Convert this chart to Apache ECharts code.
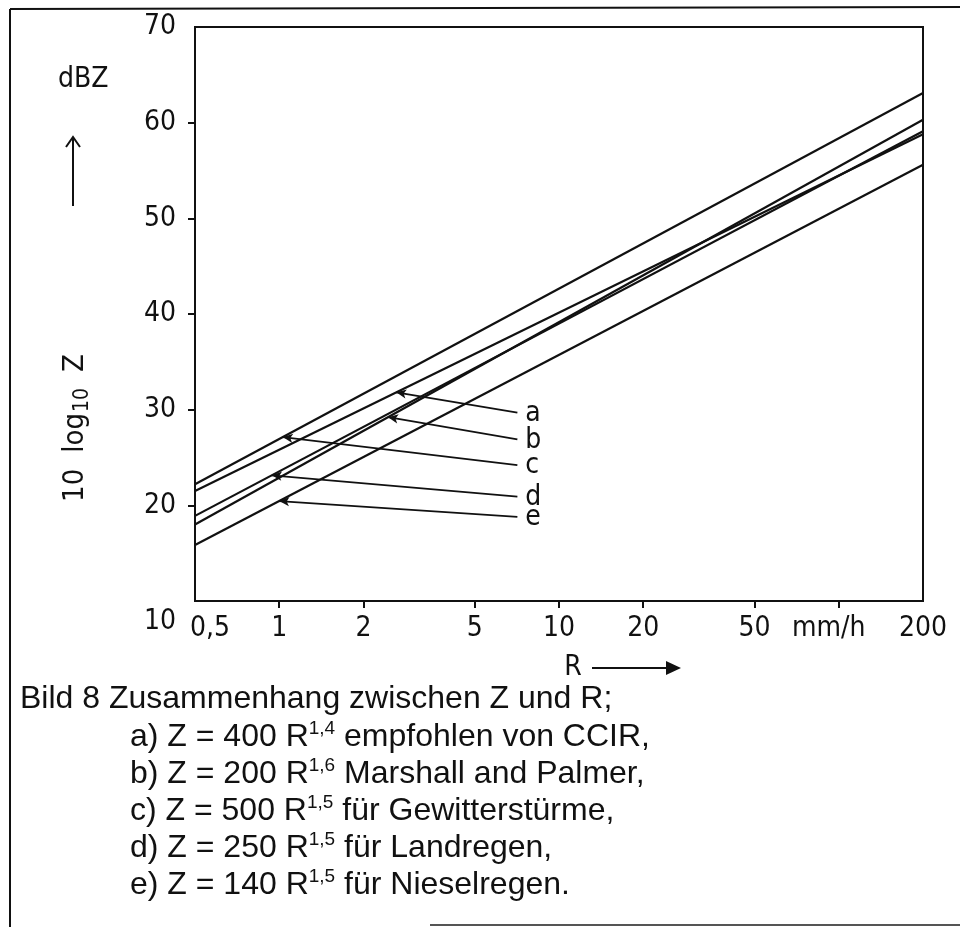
<!DOCTYPE html>
<html>
<head>
<meta charset="utf-8">
<script src="https://cdn.jsdelivr.net/npm/echarts@6/dist/echarts.min.js"></script>
<style>
html, body { margin: 0; padding: 0; background: #fff; }
#chart { width: 960px; height: 927px; }
</style>
</head>
<body>
<div id="chart"></div>
<script>
// Rain rate R (mm/h) at the two ends of the plotted range
const rainRange = [0.5, 200];
// Reflectivity 10 log10 Z (dBZ) of each Z-R relation at R = 0.5 and R = 200
const lineA = [21.5, 58.8];  // Z = 400 R^1.4
const lineB = [18.0, 60.3];  // Z = 200 R^1.6
const lineC = [22.2, 63.1];  // Z = 500 R^1.5
const lineD = [18.9, 59.1];  // Z = 250 R^1.5
const lineE = [15.85, 55.6]; // Z = 140 R^1.5
const lineNames = ['a', 'b', 'c', 'd', 'e'];

// Pointer annotations: rain rate where each pointer meets its line,
// and the [R, dBZ] point where the pointer ends next to its letter
const pointerR = [2.62, 2.45, 1.03, 0.94, 1.0];
const pointerEnd = [[7.1, 29.7], [7.1, 26.9], [7.1, 24.2], [7.1, 20.9], [7.1, 18.8]];

// Axis ticks and labels
const xTickValues = [1, 2, 5, 10, 20, 50, 100];
const xLabelValues = [0.5, 1, 2, 5, 10, 20, 50, 100, 200];
const xLabelTexts = ['0,5', '1', '2', '5', '10', '20', '50', 'mm/h', '200'];
const yTickValues = [20, 30, 40, 50, 60];
const yLabelValues = [10, 20, 30, 40, 50, 60, 70];

// Caption lines: [letter, factor, exponent, description]
const captionTitle = 'Bild 8 Zusammenhang zwischen Z und R;';
const captionRows = [
  ['a', '400', '1,4', 'empfohlen von CCIR,'],
  ['b', '200', '1,6', 'Marshall and Palmer,'],
  ['c', '500', '1,5', 'für Gewitterstürme,'],
  ['d', '250', '1,5', 'für Landregen,'],
  ['e', '140', '1,5', 'für Nieselregen.']
];

const PLOT_FONT = "'Liberation Sans Narrow', 'DejaVu Sans Condensed', 'DejaVu Sans', sans-serif";
const TEXT_FONT = "'Liberation Sans', Arial, sans-serif";
const INK = '#111';

const lines = [lineA, lineB, lineC, lineD, lineE];

// dBZ on a straight line (in log R) through the two endpoint values
function onLine(ends, r) {
  const t = (Math.log10(r) - Math.log10(rainRange[0])) /
            (Math.log10(rainRange[1]) - Math.log10(rainRange[0]));
  return ends[0] + (ends[1] - ends[0]) * t;
}

function findIndex(arr, v) {
  for (let i = 0; i < arr.length; i++) {
    if (Math.abs(arr[i] - v) < 1e-6 * Math.max(1, Math.abs(v))) return i;
  }
  return -1;
}

const series = lines.map((ends, i) => ({
  type: 'line',
  name: lineNames[i],
  data: [[rainRange[0], ends[0]], [rainRange[1], ends[1]]],
  showSymbol: false,
  silent: true,
  lineStyle: { color: INK, width: 2.2 },
  markLine: {
    silent: true,
    animation: false,
    symbol: ['arrow', 'none'],
    symbolSize: [7, 10],
    lineStyle: { color: INK, width: 1.8, type: 'solid' },
    label: {
      show: true,
      position: 'end',
      distance: 8,
      formatter: lineNames[i],
      color: INK,
      fontSize: 28,
      fontFamily: PLOT_FONT
    },
    data: [[
      { coord: [pointerR[i], onLine(ends, pointerR[i])] },
      { coord: pointerEnd[i] }
    ]]
  }
}));

const graphics = [
  // outer frame
  { type: 'line', shape: { x1: 10, y1: 9, x2: 10, y2: 927 }, style: { stroke: INK, lineWidth: 2 } },
  { type: 'line', shape: { x1: 10, y1: 9, x2: 960, y2: 7 }, style: { stroke: INK, lineWidth: 2 } },
  { type: 'line', shape: { x1: 430, y1: 925, x2: 960, y2: 925 }, style: { stroke: '#555', lineWidth: 2 } },
  // y axis name and arrow
  { type: 'text', x: 58, y: 80, style: { text: 'dBZ', font: '28px ' + PLOT_FONT, fill: INK, textAlign: 'left', textVerticalAlign: 'middle' } },
  { type: 'line', shape: { x1: 73, y1: 206, x2: 73, y2: 137 }, style: { stroke: INK, lineWidth: 2 } },
  { type: 'polyline', shape: { points: [[66, 147], [73, 137], [80, 147]] }, style: { stroke: INK, lineWidth: 2, fill: null } },
  {
    type: 'text', x: 75, y: 428, rotation: Math.PI / 2,
    style: {
      text: '{n|10}{g|}{n|log}{s|10}{g|}{n|Z}',
      textAlign: 'center', textVerticalAlign: 'middle',
      rich: {
        n: { fontSize: 29, fontFamily: PLOT_FONT, fill: INK, lineHeight: 30 },
        g: { width: 16 },
        s: { fontSize: 21, fontFamily: PLOT_FONT, fill: INK, padding: [16, 0, 0, 1] }
      }
    }
  },
  // x axis name and arrow
  { type: 'text', x: 573, y: 668, style: { text: 'R', font: '28px ' + PLOT_FONT, fill: INK, textAlign: 'center', textVerticalAlign: 'middle' } },
  { type: 'line', shape: { x1: 592, y1: 668, x2: 672, y2: 668 }, style: { stroke: INK, lineWidth: 2 } },
  { type: 'polygon', shape: { points: [[666, 661], [681, 668], [666, 675]] }, style: { fill: INK } },
  // caption
  { type: 'text', x: 20, y: 699, style: { text: captionTitle, font: '32px ' + TEXT_FONT, fill: INK, textAlign: 'left', textVerticalAlign: 'middle' } }
];

captionRows.forEach((row, i) => {
  graphics.push({
    type: 'text', x: 130, y: 737 + i * 37,
    style: {
      text: '{n|' + row[0] + ') Z = ' + row[1] + ' R}{s|' + row[2] + '}{n| ' + row[3] + '}',
      textAlign: 'left', textVerticalAlign: 'middle',
      rich: {
        n: { fontSize: 32, fontFamily: TEXT_FONT, fill: INK, lineHeight: 36 },
        s: { fontSize: 19, fontFamily: TEXT_FONT, fill: INK, verticalAlign: 'top', lineHeight: 20 }
      }
    }
  });
});

const chart = echarts.init(document.getElementById('chart'), null, { renderer: 'canvas' });
chart.setOption({
  animation: false,
  backgroundColor: '#fff',
  grid: {
    left: 195, right: 37, top: 27, bottom: 326,
    show: true, borderColor: INK, borderWidth: 2, backgroundColor: 'transparent'
  },
  xAxis: {
    type: 'log', logBase: 10, min: rainRange[0], max: rainRange[1],
    axisLine: { show: true, lineStyle: { color: INK, width: 2 } },
    axisTick: { show: true, customValues: xTickValues, length: 7, lineStyle: { color: INK, width: 2 } },
    minorTick: { show: false },
    splitLine: { show: false },
    axisLabel: {
      customValues: xLabelValues,
      margin: 14,
      color: INK, fontSize: 28, fontFamily: PLOT_FONT,
      formatter: v => {
        const k = findIndex(xLabelValues, v);
        if (k < 0) return '';
        if (k === 0) return '{first|' + xLabelTexts[k] + '}';
        if (xLabelTexts[k] === 'mm/h') return '{unit|' + xLabelTexts[k] + '}';
        return xLabelTexts[k];
      },
      rich: {
        first: { fontSize: 28, fontFamily: PLOT_FONT, color: INK, padding: [0, 0, 0, 30] },
        unit: { fontSize: 28, fontFamily: PLOT_FONT, color: INK, padding: [0, 20, 0, 0] }
      }
    }
  },
  yAxis: {
    type: 'value', min: 10, max: 70, interval: 10,
    axisLine: { show: true, lineStyle: { color: INK, width: 2 } },
    axisTick: { show: true, customValues: yTickValues, length: 7, lineStyle: { color: INK, width: 2 } },
    splitLine: { show: false },
    axisLabel: {
      customValues: yLabelValues,
      margin: 19,
      color: INK, fontSize: 28, fontFamily: PLOT_FONT,
      formatter: v => (v === 10 ? '{low|10}' : String(v)),
      rich: {
        low: { fontSize: 28, fontFamily: PLOT_FONT, color: INK, padding: [42, 0, 0, 0] }
      }
    }
  },
  graphic: graphics,
  series: series
});
</script>
</body>
</html>
